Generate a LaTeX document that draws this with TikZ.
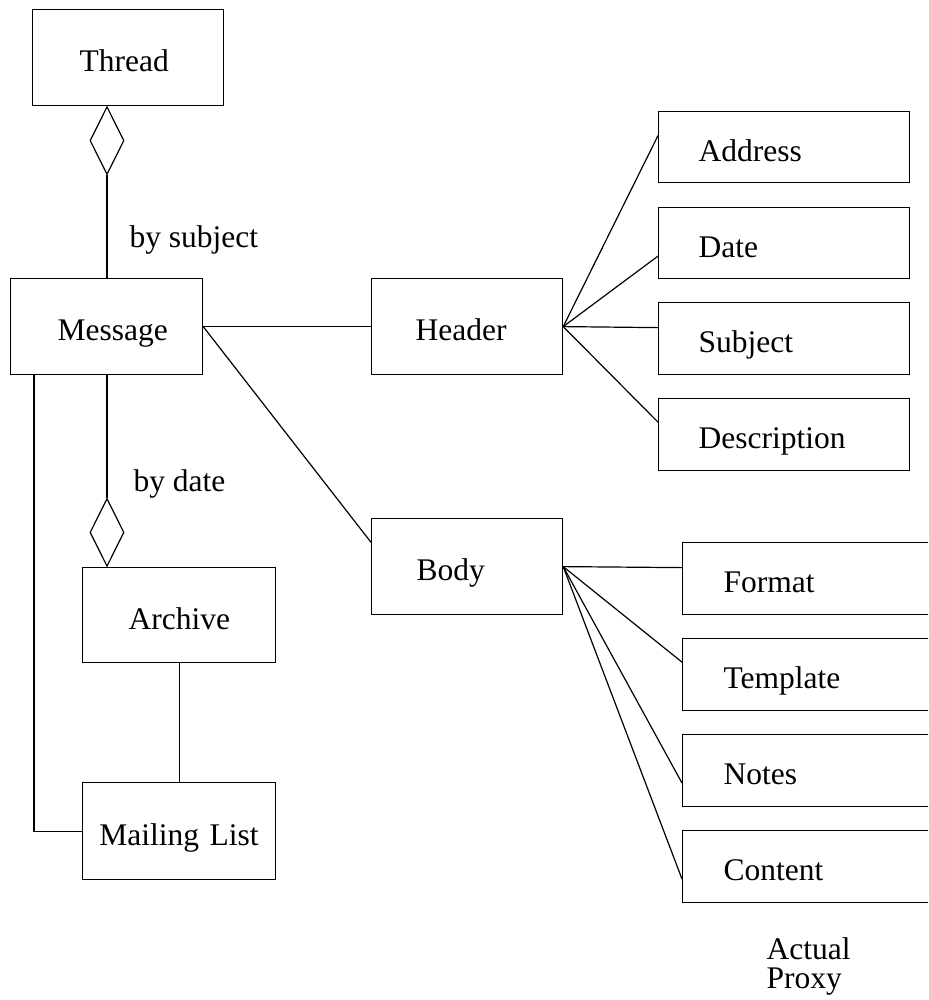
\documentclass[tikz,border=0pt]{standalone}
\usepackage{fontspec}
\setmainfont{Liberation Serif}
\usetikzlibrary{shapes.geometric,calc}

\begin{document}
\begin{tikzpicture}[x=1pt, y=-1pt, line width=1.2pt,
  box/.style={draw, rectangle, anchor=north west, inner ysep=0pt, align=left,
    text height=30pt, text depth=2pt, font=\fontsize{31.5}{34}\selectfont},
  agg/.style={draw, diamond, aspect=0.5, inner sep=0pt, minimum width=34, minimum height=68},
  lbl/.style={inner sep=0pt, anchor=west, font=\fontsize{31.5}{34}\selectfont}]
  % page frame (also clips the boxes running off the right edge)
  \clip (0,0) rectangle (928,1000);
  \fill[white] (0,0) rectangle (928,1000);

  % left-hand classes
  \node[box, minimum height=96, inner xsep=47, text width=97]  (thread)  at (32,9)    {Thread};
  \node[box, minimum height=96, inner xsep=47, text width=98]  (message) at (10,278)  {Message};
  \node[box, minimum height=95, inner xsep=46, text width=101] (archive) at (82,567)  {Archive};
  \node[box, minimum height=97, inner xsep=0, text width=193, align=center] (mlist) at (82,782) {Mailing List};

  % header / body
  \node[box, minimum height=96, inner xsep=44, text width=103] (header)  at (371,278) {Header};
  \node[box, minimum height=96, inner xsep=45, text width=101] (body)    at (371,518) {Body};

  % header fields
  \node[box, minimum height=71, inner xsep=40, text width=171] (address) at (658,111) {Address};
  \node[box, minimum height=71, inner xsep=40, text width=171] (date)    at (658,207) {Date};
  \node[box, minimum height=72, inner xsep=40, text width=171] (subject) at (658,302) {Subject};
  \node[box, minimum height=72, inner xsep=40, text width=171] (descr)   at (658,398) {Description};

  % body parts
  \node[box, minimum height=72, inner xsep=41, text width=169] (format)   at (682,542) {Format};
  \node[box, minimum height=72, inner xsep=41, text width=169] (template) at (682,638) {Template};
  \node[box, minimum height=72, inner xsep=41, text width=169] (notes)    at (682,734) {Notes};
  \node[box, minimum height=72, inner xsep=41, text width=169] (content)  at (682,830) {Content};

  % aggregation diamonds
  \node[agg, anchor=north] (dthread)  at (107,106) {};
  \node[agg, anchor=south] (darchive) at (107,567) {};

  % labels
  \node[lbl] (bysubject) at (129,240) {by subject};
  \node[lbl] (bydate)    at (133,484) {by date};
  \node[lbl, anchor=north west, align=left, font=\fontsize{31.5}{29}\selectfont]
    (legend) at (766,937) {Actual\\Proxy};

  % aggregations
  \draw (dthread.south) -- (dthread.south |- message.north);
  \draw (darchive.north) -- (darchive.north |- message.south);

  % other associations
  \draw (archive.south) -- (mlist.north);
  \draw ($(message.south west)+(24,0)$) |- (mlist.west);
  \draw (message.east) -- (header.west);
  \draw (message.east) -- ($(body.north west)!0.25!(body.south west)$);

  % header fields
  \draw (header.east) -- ($(address.north west)!0.34!(address.south west)$);
  \draw (header.east) -- ($(date.north west)!0.68!(date.south west)$);
  \draw (header.east) -- ($(subject.north west)!0.35!(subject.south west)$);
  \draw (header.east) -- ($(descr.north west)!0.33!(descr.south west)$);

  % body parts
  \draw (body.east) -- ($(format.north west)!0.35!(format.south west)$);
  \draw (body.east) -- ($(template.north west)!0.33!(template.south west)$);
  \draw (body.east) -- ($(notes.north west)!0.67!(notes.south west)$);
  \draw (body.east) -- ($(content.north west)!0.67!(content.south west)$);
\end{tikzpicture}
\end{document}
